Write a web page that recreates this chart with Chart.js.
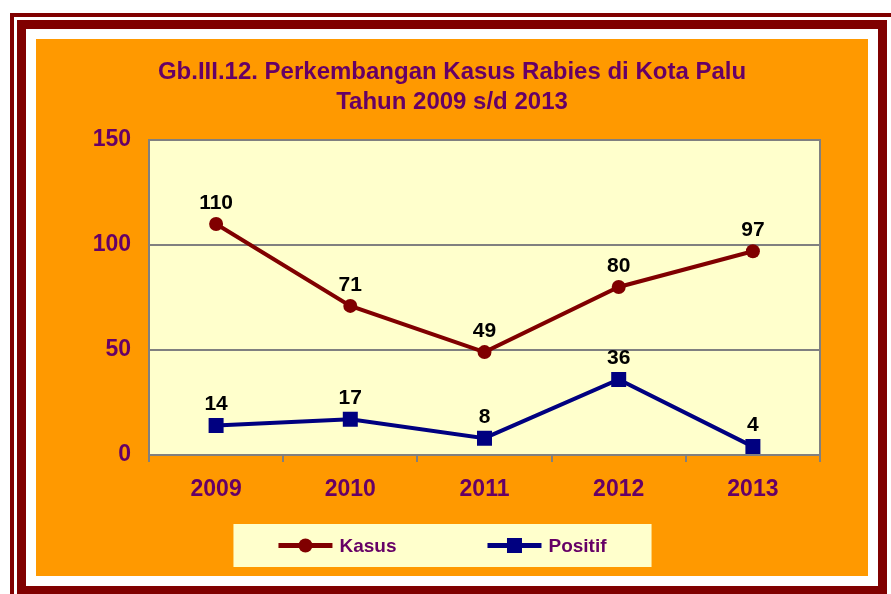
<!DOCTYPE html>
<html>
<head>
<meta charset="utf-8">
<title>Perkembangan Kasus Rabies di Kota Palu</title>
<script src="https://cdn.jsdelivr.net/npm/chart.js@4.4.1/dist/chart.umd.min.js"></script>
<style>
    html, body { margin: 0; padding: 0; background: #ffffff; }
    #chart { display: block; }
</style>
</head>
<body>
<canvas id="chart" width="891" height="594"></canvas>
<script>
const years = ['2009', '2010', '2011', '2012', '2013'];
const kasus = [110, 71, 49, 80, 97];
const positif = [14, 17, 8, 36, 4];
const yTicks = [0, 50, 100, 150];
const titleLines = ['Gb.III.12. Perkembangan Kasus Rabies di Kota Palu', 'Tahun 2009 s/d 2013'];

const FONT = '"Liberation Sans", Arial, sans-serif';
const PURPLE = '#660066';
const GRID = '#808080';
const PLOT_BG = '#FFFFCC';

// frame around the whole picture + plot background
const framePlugin = {
    id: 'frame',
    beforeDraw(chart) {
        const ctx = chart.ctx;
        const area = chart.chartArea;
        ctx.save();
        ctx.fillStyle = '#ffffff';
        ctx.fillRect(0, 0, chart.width, chart.height);

        ctx.strokeStyle = '#800000';
        ctx.lineWidth = 4;
        ctx.strokeRect(12, 15, chart.width + 20, chart.height + 20);
        ctx.lineWidth = 9;
        ctx.strokeRect(21.5, 24.5, 861, 566);

        ctx.fillStyle = '#FF9900';
        ctx.fillRect(36, 39, 832, 537);

        ctx.fillStyle = PLOT_BG;
        ctx.fillRect(area.left, area.top, area.right - area.left, area.bottom - area.top);
        ctx.restore();
    },
    beforeDatasetsDraw(chart) {
        const ctx = chart.ctx;
        const area = chart.chartArea;
        ctx.save();
        ctx.strokeStyle = GRID;
        ctx.lineWidth = 2;
        ctx.strokeRect(area.left, area.top, area.right - area.left, area.bottom - area.top);
        ctx.restore();
    }
};

// numbers above each point
const valueLabels = {
    id: 'valueLabels',
    afterDatasetsDraw(chart) {
        const ctx = chart.ctx;
        ctx.save();
        ctx.font = 'bold 21px ' + FONT;
        ctx.fillStyle = '#000000';
        ctx.textAlign = 'center';
        ctx.textBaseline = 'middle';
        chart.data.datasets.forEach((ds, i) => {
            chart.getDatasetMeta(i).data.forEach((pt, j) => {
                ctx.fillText(String(ds.data[j]), pt.x, pt.y - 21);
            });
        });
        ctx.restore();
    }
};

// excel style legend: line with marker in the middle, in a pale box
const boxLegend = {
    id: 'boxLegend',
    afterDraw(chart) {
        const ctx = chart.ctx;
        const symW = 54, textGap = 7, itemGap = 91, padX = 45;
        ctx.save();
        ctx.font = 'bold 19px ' + FONT;
        const items = chart.data.datasets.map(ds => ({ ds, w: ctx.measureText(ds.label).width }));
        let content = 0;
        items.forEach((it, i) => { content += symW + textGap + it.w + (i ? itemGap : 0); });
        const boxW = content + padX * 2;
        const boxH = 43;
        const cx = chart.width / 2 - 3;
        const top = chart.chartArea.bottom + 69;
        const midY = top + boxH / 2;

        ctx.fillStyle = PLOT_BG;
        ctx.fillRect(cx - boxW / 2, top, boxW, boxH);

        let x = cx - content / 2;
        items.forEach((it, i) => {
            if (i) x += itemGap;
            const ds = it.ds;
            ctx.strokeStyle = ds.borderColor;
            ctx.lineWidth = 5;
            ctx.beginPath();
            ctx.moveTo(x, midY);
            ctx.lineTo(x + symW, midY);
            ctx.stroke();
            ctx.fillStyle = ds.pointBackgroundColor;
            const mx = x + symW / 2;
            if (ds.pointStyle === 'circle') {
                ctx.beginPath();
                ctx.arc(mx, midY, 7, 0, Math.PI * 2);
                ctx.fill();
            } else {
                ctx.fillRect(mx - 7.5, midY - 7.5, 15, 15);
            }
            x += symW + textGap;
            ctx.fillStyle = PURPLE;
            ctx.textAlign = 'left';
            ctx.textBaseline = 'middle';
            ctx.fillText(ds.label, x, midY + 1);
            x += it.w;
        });
        ctx.restore();
    }
};

new Chart(document.getElementById('chart'), {
    type: 'line',
    data: {
        labels: years,
        datasets: [{
            label: 'Kasus',
            data: kasus,
            borderColor: '#800000',
            backgroundColor: '#800000',
            pointBackgroundColor: '#800000',
            pointBorderColor: '#800000',
            pointStyle: 'circle',
            pointRadius: 7,
            pointBorderWidth: 0,
            borderWidth: 4,
            tension: 0,
            fill: false
        }, {
            label: 'Positif',
            data: positif,
            borderColor: '#000080',
            backgroundColor: '#000080',
            pointBackgroundColor: '#000080',
            pointBorderColor: '#000080',
            pointStyle: 'rect',
            pointRadius: 10.6,
            pointBorderWidth: 0,
            borderWidth: 4,
            tension: 0,
            fill: false
        }]
    },
    options: {
        responsive: false,
        animation: false,
        devicePixelRatio: 1,
        layout: {
            padding: { left: 36, right: 23, top: 39, bottom: 89 }
        },
        scales: {
            x: {
                type: 'category',
                offset: true,
                afterFit: (scale) => { scale.height = 50; },
                grid: {
                    offset: true,
                    drawOnChartArea: false,
                    drawTicks: true,
                    tickLength: 7,
                    color: GRID,
                    lineWidth: 2
                },
                border: { display: false },
                ticks: {
                    color: PURPLE,
                    padding: 14,
                    font: { family: FONT, size: 23, weight: 'bold' }
                }
            },
            y: {
                min: 0,
                max: 150,
                afterFit: (scale) => { scale.width = 113; },
                afterBuildTicks: (scale) => { scale.ticks = yTicks.map(v => ({ value: v })); },
                grid: {
                    drawTicks: false,
                    color: GRID,
                    lineWidth: 2
                },
                border: { display: false },
                ticks: {
                    color: PURPLE,
                    padding: 18,
                    font: { family: FONT, size: 23, weight: 'bold' }
                }
            },
            y2: {
                position: 'right',
                display: true,
                afterFit: (scale) => { scale.width = 48; },
                grid: { display: false },
                border: { display: false },
                ticks: { display: false }
            }
        },
        plugins: {
            legend: { display: false },
            tooltip: { enabled: false },
            title: {
                display: true,
                text: titleLines,
                color: PURPLE,
                font: { family: FONT, size: 24, weight: 'bold', lineHeight: 1.25 },
                padding: { top: 18, bottom: 23 }
            }
        }
    },
    plugins: [framePlugin, valueLabels, boxLegend]
});
</script>
</body>
</html>
